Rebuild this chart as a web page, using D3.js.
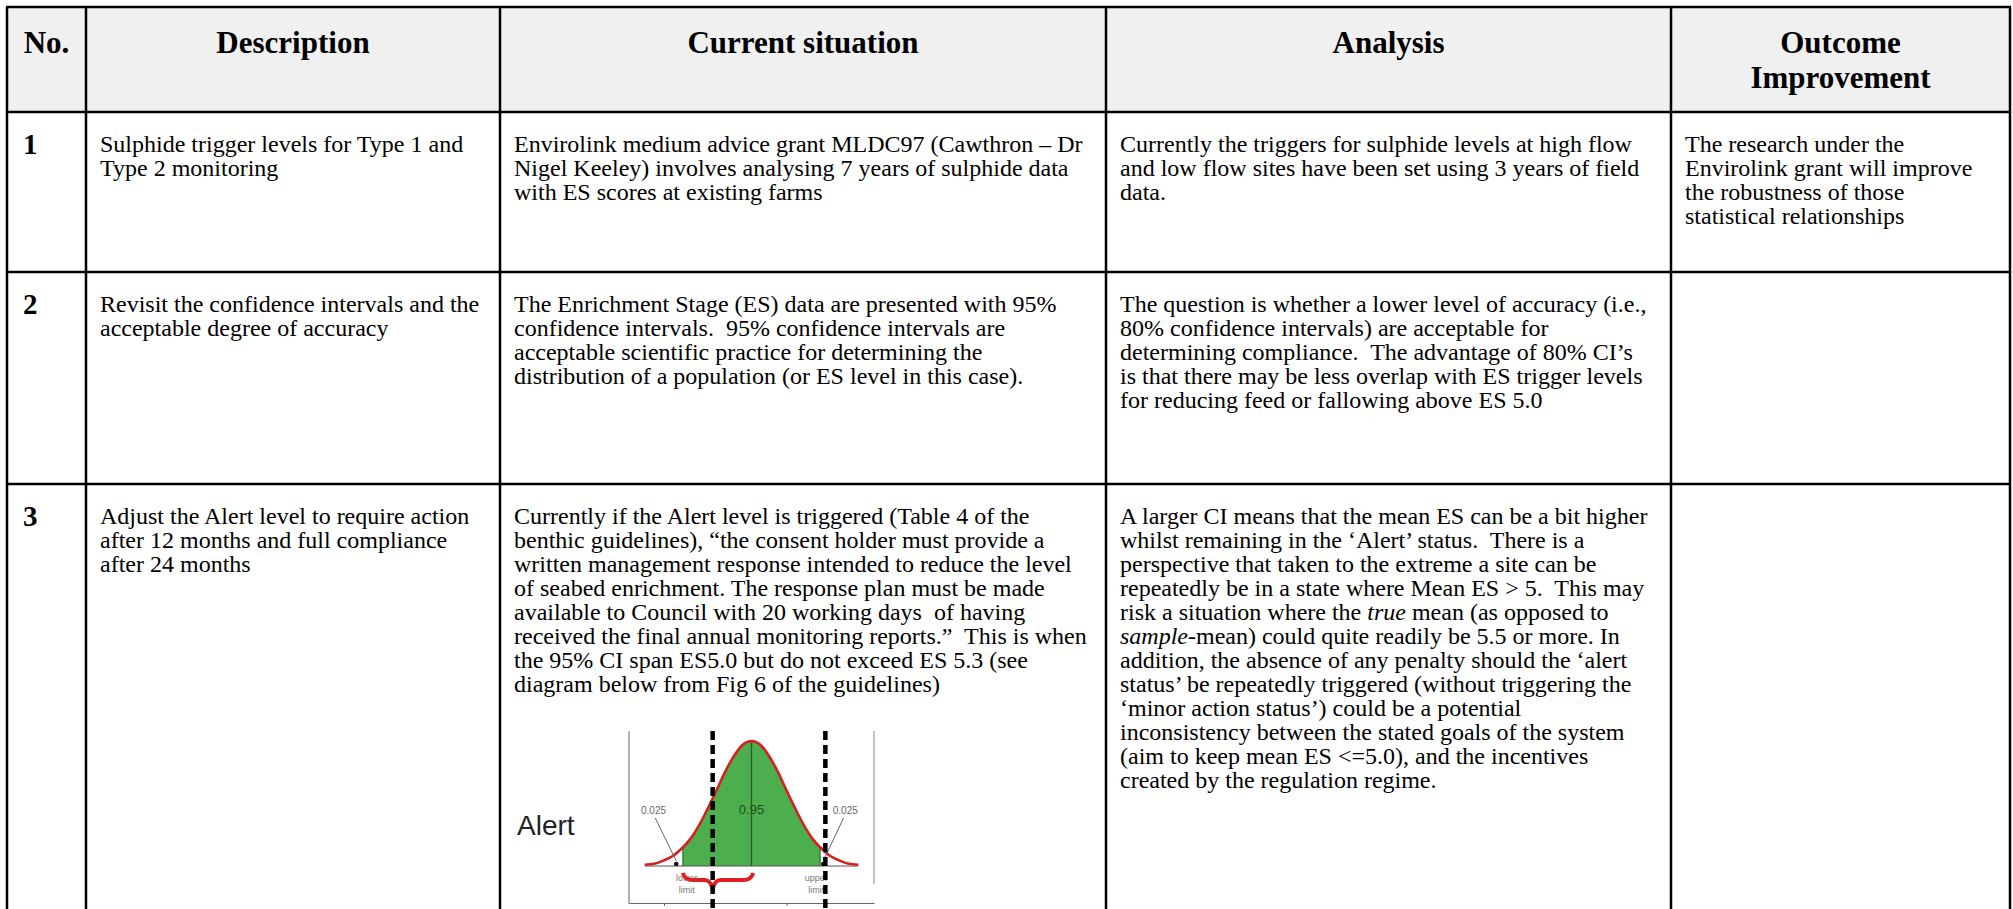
<!DOCTYPE html>
<html><head><meta charset="utf-8">
<script src="https://cdn.jsdelivr.net/npm/d3@7"></script>
<style>html,body{margin:0;padding:0;background:#fff;overflow:hidden}</style>
</head><body>
<svg id="c" width="2013" height="909"></svg>
<script>
// ---------- DATA ----------
const headers = [["No."], ["Description"], ["Current situation"], ["Analysis"], ["Outcome", "Improvement"]];
const rowNumbers = ["1", "2", "3"];
const descriptions = [
  ["Sulphide trigger levels for Type 1 and", "Type 2 monitoring"],
  ["Revisit the confidence intervals and the", "acceptable degree of accuracy"],
  ["Adjust the Alert level to require action", "after 12 months and full compliance", "after 24 months"]
];
const currentSituation = [
  ["Envirolink medium advice grant MLDC97 (Cawthron \u2013 Dr", "Nigel Keeley) involves analysing 7 years of sulphide data", "with ES scores at existing farms"],
  ["The Enrichment Stage (ES) data are presented with 95%", "confidence intervals.  95% confidence intervals are", "acceptable scientific practice for determining the", "distribution of a population (or ES level in this case)."],
  ["Currently if the Alert level is triggered (Table 4 of the", "benthic guidelines), \u201cthe consent holder must provide a", "written management response intended to reduce the level", "of seabed enrichment. The response plan must be made", "available to Council with 20 working days  of having", "received the final annual monitoring reports.\u201d  This is when", "the 95% CI span ES5.0 but do not exceed ES 5.3 (see", "diagram below from Fig 6 of the guidelines)"]
];
const analysis = [
  ["Currently the triggers for sulphide levels at high flow", "and low flow sites have been set using 3 years of field", "data."],
  ["The question is whether a lower level of accuracy (i.e.,", "80% confidence intervals) are acceptable for", "determining compliance.  The advantage of 80% CI\u2019s", "is that there may be less overlap with ES trigger levels", "for reducing feed or fallowing above ES 5.0"],
  ["A larger CI means that the mean ES can be a bit higher", "whilst remaining in the \u2018Alert\u2019 status.  There is a", "perspective that taken to the extreme a site can be", "repeatedly be in a state where Mean ES > 5.  This may", "risk a situation where the *true* mean (as opposed to", "*sample*-mean) could quite readily be 5.5 or more. In", "addition, the absence of any penalty should the \u2018alert", "status\u2019 be repeatedly triggered (without triggering the", "\u2018minor action status\u2019) could be a potential", "inconsistency between the stated goals of the system", "(aim to keep mean ES <=5.0), and the incentives", "created by the regulation regime."]
];
const outcome = [
  ["The research under the", "Envirolink grant will improve", "the robustness of those", "statistical relationships"],
  [],
  []
];
// diagram (in standard-deviation units)
const curveX = [-3.05, -2.75, -2.5, -2.25, -1.96, -1.75, -1.5, -1.25, -1, -0.75, -0.5, -0.25, 0, 0.25, 0.5, 0.75, 1, 1.25, 1.5, 1.75, 1.96, 2.25, 2.5, 2.75, 3.05];
const curveY = [0.01, 0.02, 0.045, 0.08, 0.15, 0.215, 0.325, 0.46, 0.605, 0.755, 0.88, 0.97, 1, 0.97, 0.88, 0.755, 0.605, 0.46, 0.325, 0.215, 0.15, 0.08, 0.045, 0.02, 0.01];
const ciLimits = [-1.96, 1.96];
const dashedLimits = [-1.11, 2.11];
const tailLabels = ["0.025", "0.025"];
const centreLabel = "0.95";
const limitLabels = [["lower", "limit"], ["upper", "limit"]];
const panelLabel = "Alert";
const axisTicks = [-2.5, -1.1, 1, 2.1];

// ---------- LAYOUT ----------
const svg = d3.select("#c");
const colEdges = [7, 86, 500, 1106, 1671, 2010];
const rowEdges = [7, 112, 272, 484, 930];
const serif = "'Liberation Serif','Times New Roman',serif";
const sans = "'Liberation Sans',Arial,sans-serif";
const lineH = 24;

svg.append("rect").attr("x", 0).attr("y", 0).attr("width", 2013).attr("height", 909).attr("fill", "#fff");
svg.append("rect").attr("x", colEdges[0]).attr("y", rowEdges[0])
  .attr("width", colEdges[5] - colEdges[0]).attr("height", rowEdges[1] - rowEdges[0]).attr("fill", "#f0f0f0");

// header text
headers.forEach((h, i) => {
  const cx = (colEdges[i] + colEdges[i + 1]) / 2;
  const t = svg.append("text").attr("text-anchor", "middle").attr("font-family", serif)
    .attr("font-weight", "bold").attr("font-size", 31).attr("fill", "#000");
  h.forEach((ln, k) => t.append("tspan").attr("x", cx).attr("y", 53 + k * 35).text(ln));
});

function writeLines(lines, x, y0) {
  const t = svg.append("text").attr("font-family", serif).attr("font-size", 24).attr("fill", "#000")
    .style("white-space", "pre");
  lines.forEach((ln, k) => {
    const parts = ln.split("*");
    let first = true;
    parts.forEach((p, j) => {
      if (!p) return;
      const sp = t.append("tspan").text(p);
      if (first) { sp.attr("x", x).attr("y", y0 + k * lineH); first = false; }
      if (j % 2 === 1) sp.attr("font-style", "italic");
    });
  });
  return t;
}

const bodyCols = [descriptions, currentSituation, analysis, outcome];
rowNumbers.forEach((n, r) => {
  const top = rowEdges[r + 1];
  svg.append("text").attr("x", colEdges[0] + 16).attr("y", top + 42)
    .attr("font-family", serif).attr("font-weight", "bold").attr("font-size", 29).text(n);
  bodyCols.forEach((col, c) => writeLines(col[r], colEdges[c + 1] + 14, top + 40));
});

// ---------- DIAGRAM ----------
const g = svg.append("g");
const boxTop = 731, boxBottom = 903;
const dx = d3.scaleLinear().domain([-3.5, 3.5]).range([629, 874]);
const dy = d3.scaleLinear().domain([0, 1]).range([866, 741]);
const pts = curveX.map((x, i) => ({ x, y: curveY[i] }));

g.append("text").attr("x", 517).attr("y", 835).attr("font-family", sans)
  .attr("font-size", 28).attr("fill", "#222").text(panelLabel);

// frame
g.append("line").attr("x1", dx(-3.5)).attr("x2", dx(-3.5)).attr("y1", boxTop).attr("y2", boxBottom + 1).attr("stroke", "#666").attr("stroke-width", 1);
g.append("line").attr("x1", dx(3.5)).attr("x2", dx(3.5)).attr("y1", boxTop).attr("y2", 884).attr("stroke", "#888").attr("stroke-width", 1);
const ax = d3.axisBottom(dx).tickValues(axisTicks).tickFormat("").tickSize(3).tickSizeOuter(0);
g.append("g").attr("transform", `translate(0,${boxBottom})`).call(ax)
  .call(s => s.select(".domain").attr("stroke", "#666"))
  .call(s => s.selectAll(".tick line").attr("stroke", "#666"));

// green area within CI
const inside = pts.filter(p => p.x >= ciLimits[0] && p.x <= ciLimits[1]);
g.append("path").datum(inside)
  .attr("d", d3.area().x(p => dx(p.x)).y0(dy(0)).y1(p => dy(p.y)).curve(d3.curveMonotoneX))
  .attr("fill", "#4cae4c");
ciLimits.forEach(l => {
  const p = pts.find(q => q.x === l);
  g.append("line").attr("x1", dx(l)).attr("x2", dx(l)).attr("y1", dy(0)).attr("y2", dy(p.y))
    .attr("stroke", "#2f6f2f").attr("stroke-width", 1.2);
});
g.append("line").attr("x1", dx(0)).attr("x2", dx(0)).attr("y1", dy(0)).attr("y2", dy(1))
  .attr("stroke", "#2a5a2a").attr("stroke-width", 1.3);
g.append("line").attr("x1", dx(curveX[0])).attr("x2", dx(curveX[curveX.length - 1])).attr("y1", dy(0)).attr("y2", dy(0))
  .attr("stroke", "#555").attr("stroke-width", 1);
g.append("path").datum(pts)
  .attr("d", d3.line().x(p => dx(p.x)).y(p => dy(p.y)).curve(d3.curveMonotoneX))
  .attr("fill", "none").attr("stroke", "#d62020").attr("stroke-width", 2.6);

// tail labels and pointers
[[-2.8, -2.15], [2.68, 2.05]].forEach((pr, i) => {
  g.append("text").attr("x", dx(pr[0])).attr("y", 814).attr("text-anchor", "middle")
    .attr("font-family", sans).attr("font-size", 10).attr("fill", "#666").text(tailLabels[i]);
  g.append("line").attr("x1", dx(pr[0] + (i ? -0.05 : 0.05))).attr("y1", 818).attr("x2", dx(pr[1])).attr("y2", 861)
    .attr("stroke", "#666").attr("stroke-width", 1);
  g.append("circle").attr("cx", dx(pr[1])).attr("cy", 864).attr("r", 2.3).attr("fill", "#111");
});
g.append("text").attr("x", dx(0)).attr("y", 814).attr("text-anchor", "middle")
  .attr("font-family", sans).attr("font-size", 13).attr("fill", "#1f4f1f").text(centreLabel);

// limit labels
[-1.85, 1.85].forEach((v, i) => {
  const t = g.append("text").attr("text-anchor", "middle").attr("font-family", sans).attr("font-size", 9).attr("fill", "#777");
  limitLabels[i].forEach((ln, k) => t.append("tspan").attr("x", dx(v)).attr("y", 881 + k * 12).text(ln));
});

// red brace from lower limit to centre
{
  const x0 = dx(ciLimits[0]), x1 = dx(0.05), xm = dx(dashedLimits[0]);
  const yb = 880, yt = 873, yc = 889;
  const p = d3.path();
  p.moveTo(x0, yt);
  p.quadraticCurveTo(x0 + 2, yb, x0 + 10, yb);
  p.lineTo(xm - 8, yb);
  p.quadraticCurveTo(xm - 2, yb, xm, yc);
  p.quadraticCurveTo(xm + 2, yb, xm + 8, yb);
  p.lineTo(x1 - 10, yb);
  p.quadraticCurveTo(x1 - 2, yb, x1, yt);
  g.append("path").attr("d", p.toString()).attr("fill", "none").attr("stroke", "#e02020").attr("stroke-width", 4);
}

// dashed limits
dashedLimits.forEach(l => {
  g.append("line").attr("x1", dx(l)).attr("x2", dx(l)).attr("y1", boxTop).attr("y2", 909)
    .attr("stroke", "#000").attr("stroke-width", 4.5).attr("stroke-dasharray", "9,5");
});

// ---------- GRID ----------
const grid = svg.append("g").attr("stroke", "#000").attr("stroke-width", 2.5);
colEdges.forEach(x => grid.append("line").attr("x1", x).attr("x2", x).attr("y1", rowEdges[0]).attr("y2", 909));
rowEdges.slice(0, 4).forEach(y => grid.append("line").attr("x1", colEdges[0] - 1).attr("x2", colEdges[5] + 1).attr("y1", y).attr("y2", y));
</script>
</body></html>
